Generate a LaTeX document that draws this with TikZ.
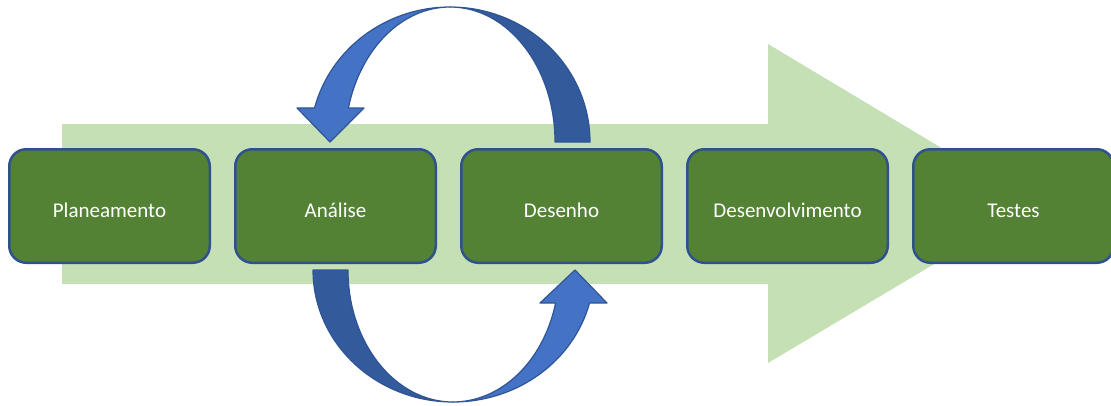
\documentclass[tikz,border=0pt]{standalone}
\usepackage{fontspec}
\setmainfont{Carlito}
\definecolor{bgarrow}{HTML}{C5E0B4}
\definecolor{boxfill}{HTML}{548235}
\definecolor{boxline}{HTML}{2F528F}
\definecolor{lightblue}{HTML}{4472C4}
\definecolor{darkblue}{HTML}{335A9B}
\definecolor{arrowline}{HTML}{2F5597}
\tikzset{
  stepbox/.style={draw=boxline, line width=2.5pt, fill=boxfill, rounded corners=17pt,
    minimum width=200.5pt, minimum height=113.5pt, text=white, inner sep=0pt,
    text height=26pt, text depth=4pt,
    font=\fontsize{21}{25}\selectfont},
  lightband/.style={fill=lightblue, draw=arrowline, line width=1.2pt, line join=round},
  darkband/.style={fill=darkblue, draw=arrowline, line width=1.2pt, line join=round}
}
\begin{document}
\begin{tikzpicture}[x=1pt,y=-1pt]
\useasboundingbox (0,0) rectangle (1111,405);
% background process arrow
\fill[bgarrow] (62,124) -- (768,124) -- (768,44) -- (1035,204) -- (768,363) -- (768,284) -- (62,284) -- cycle;
% steps
\node[stepbox] (p1) at (109.5,206) {Planeamento};
\node[stepbox] (p2) at (335.5,206) {Análise};
\node[stepbox] (p3) at (561.5,206) {Desenho};
\node[stepbox] (p4) at (787.5,206) {Desenvolvimento};
\node[stepbox] (p5) at (1013.5,206) {Testes};
% top circular arrow (Desenho -> Análise)
\draw[darkband] (590,142) arc[start angle=0, end angle=-90, x radius=140, y radius=135]
  arc[start angle=-90, end angle=0, x radius=105, y radius=135] -- cycle;
\draw[lightband] (450,7) arc[start angle=-90, end angle=-165.4, x radius=140, y radius=135]
  -- (297,108) -- (330,142) -- (364,108) -- (348.4,108)
  arc[start angle=-165.4, end angle=-90, x radius=105, y radius=135] -- cycle;
% bottom circular arrow (Análise -> Desenho)
\draw[darkband] (313,270) arc[start angle=180, end angle=90, x radius=140, y radius=132]
  arc[start angle=90, end angle=180, x radius=105, y radius=132] -- cycle;
\draw[lightband] (453,402) arc[start angle=90, end angle=14.5, x radius=141, y radius=132]
  -- (607,303) -- (575,270) -- (540,303) -- (555.6,303)
  arc[start angle=14.5, end angle=90, x radius=106, y radius=132] -- cycle;
\end{tikzpicture}
\end{document}
